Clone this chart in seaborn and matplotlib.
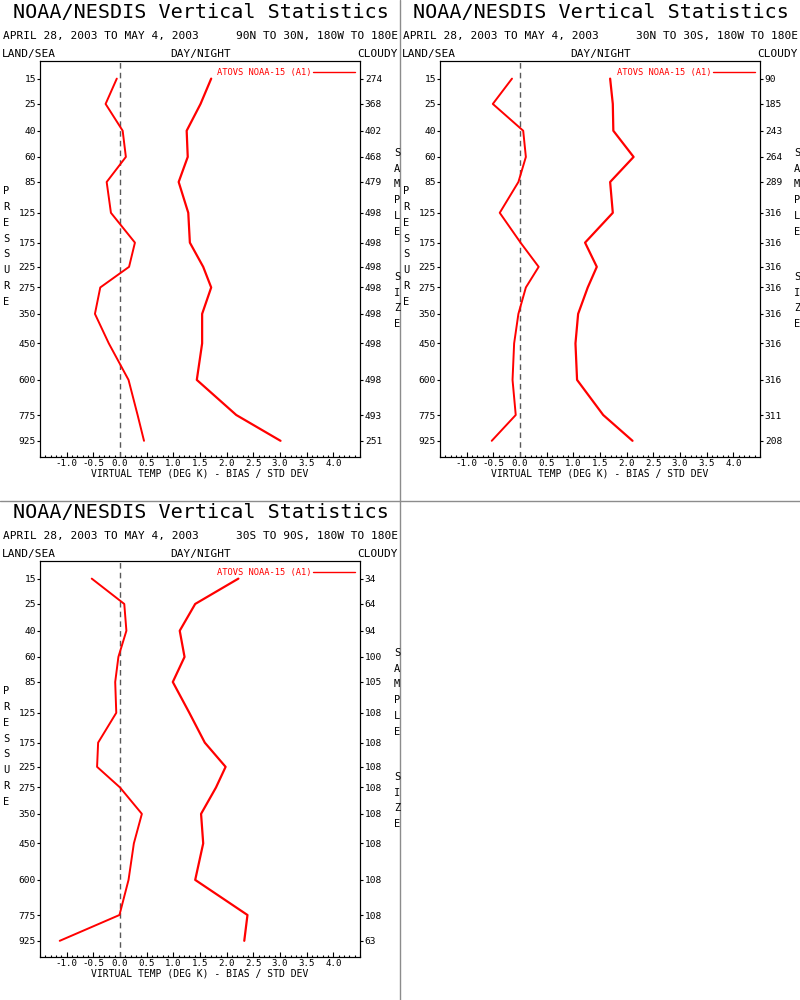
import numpy as np
import matplotlib
matplotlib.use('Agg')
import matplotlib.pyplot as plt
import seaborn as sns
from matplotlib.lines import Line2D
from matplotlib.ticker import MultipleLocator, NullLocator

# pressure levels (hPa) and the three latitude bands
levels = [15, 25, 40, 60, 85, 125, 175, 225, 275, 350, 450, 600, 775, 925]
regions = ['90N TO 30N, 180W TO 180E', '30N TO 30S, 180W TO 180E', '30S TO 90S, 180W TO 180E']
date_range = 'APRIL 28, 2003 TO MAY 4, 2003'
legend_label = 'ATOVS NOAA-15 (A1)'

# virtual temperature bias (K)
bias_nh = [-0.06, -0.27, 0.05, 0.11, -0.25, -0.17, 0.28, 0.17, -0.37, -0.47, -0.21, 0.16, 0.33, 0.45]
bias_tr = [-0.15, -0.51, 0.06, 0.11, -0.03, -0.38, 0.01, 0.35, 0.11, -0.03, -0.11, -0.14, -0.08, -0.53]
bias_sh = [-0.53, 0.08, 0.12, -0.03, -0.09, -0.07, -0.41, -0.43, 0.00, 0.41, 0.26, 0.16, -0.01, -1.13]

# virtual temperature std dev (K)
std_nh = [1.71, 1.51, 1.25, 1.27, 1.10, 1.28, 1.31, 1.56, 1.71, 1.54, 1.54, 1.44, 2.18, 3.01]
std_tr = [1.69, 1.74, 1.75, 2.13, 1.69, 1.74, 1.22, 1.44, 1.27, 1.09, 1.04, 1.07, 1.56, 2.11]
std_sh = [2.22, 1.41, 1.12, 1.21, 0.99, 1.30, 1.59, 1.98, 1.80, 1.52, 1.56, 1.41, 2.39, 2.33]

# sample sizes per level
n_nh = [274, 368, 402, 468, 479, 498, 498, 498, 498, 498, 498, 498, 493, 251]
n_tr = [90, 185, 243, 264, 289, 316, 316, 316, 316, 316, 316, 316, 311, 208]
n_sh = [34, 64, 94, 100, 105, 108, 108, 108, 108, 108, 108, 108, 108, 63]

xticks = [-1.0, -0.5, 0.0, 0.5, 1.0, 1.5, 2.0, 2.5, 3.0, 3.5, 4.0]

sns.set_style('ticks')
plt.rcParams['font.family'] = ['DejaVu Sans Mono']
plt.rcParams['axes.unicode_minus'] = False
plt.rcParams['axes.linewidth'] = 0.8
for key in ['text.color', 'axes.labelcolor', 'axes.edgecolor', 'xtick.color', 'ytick.color']:
    plt.rcParams[key] = 'black'

W, H = 800, 1000
fig = plt.figure(figsize=(8, 10), dpi=100)

KAPPA = 0.286
def fwd(p):
    return np.power(np.clip(p, 1e-6, None), KAPPA)
def inv(v):
    return np.power(np.clip(v, 1e-6, None), 1 / KAPPA)

def fx(x):
    return x / W
def fy(y):
    return 1 - y / H

def panel(ox, oy, region, bias, std, counts):
    ax = fig.add_axes([fx(ox + 40), fy(oy + 456.7), 320 / W, 395.7 / H])
    ax.set_yscale('function', functions=(fwd, inv))
    ax.axvline(0, color='0.35', lw=1, ls=(0, (4, 3)))
    sns.lineplot(x=bias, y=levels, sort=False, orient='y', estimator=None,
                 color='red', lw=1.4, ax=ax, label=legend_label)
    sns.lineplot(x=std, y=levels, sort=False, orient='y', estimator=None,
                 color='red', lw=1.6, ax=ax, legend=False)
    ax.set_ylim(1027, 10)
    ax.set_xlim(-1.5, 4.5)
    ax.set_xticks(xticks, [f'{v:.1f}' for v in xticks])
    ax.xaxis.set_minor_locator(MultipleLocator(0.1))
    ax.set_yticks(levels, [str(p) for p in levels])
    ax.yaxis.set_minor_locator(NullLocator())
    ax.tick_params(axis='x', which='major', direction='in', length=3.5, width=0.8, pad=2, labelsize=6.6)
    ax.tick_params(axis='x', which='minor', direction='in', length=1.8, width=0.8)
    ax.tick_params(axis='y', direction='out', length=2.5, width=0.8, pad=0.5, labelsize=6.8)
    ax.set_xlabel('VIRTUAL TEMP (DEG K) - BIAS / STD DEV', fontsize=7, labelpad=0)
    ax.set_ylabel('')

    ax2 = ax.twinx()
    ax2.set_yscale('function', functions=(fwd, inv))
    ax2.set_ylim(1027, 10)
    ax2.set_yticks(levels, [str(c) for c in counts])
    ax2.yaxis.set_minor_locator(NullLocator())
    ax2.tick_params(axis='y', direction='out', length=2.5, width=0.8, pad=1, labelsize=6.8)

    ax.legend(loc='upper right', bbox_to_anchor=(0.995, 0.99), markerfirst=False,
              frameon=False, handlelength=4.8, handletextpad=0.2, borderaxespad=0,
              fontsize=6.3, labelcolor='red')
    for h in ax.get_legend().legend_handles:
        h.set_linewidth(1.0)

    fig.text(fx(ox + 201), fy(oy + 12), 'NOAA/NESDIS Vertical Statistics',
             fontsize=14.5, ha='center', va='center')
    fig.text(fx(ox + 3), fy(oy + 36), date_range, fontsize=8, ha='left', va='center')
    fig.text(fx(ox + 398), fy(oy + 36), region, fontsize=8, ha='right', va='center')
    fig.text(fx(ox + 2), fy(oy + 54), 'LAND/SEA', fontsize=8, ha='left', va='center')
    fig.text(fx(ox + 201), fy(oy + 54), 'DAY/NIGHT', fontsize=8, ha='center', va='center')
    fig.text(fx(ox + 398), fy(oy + 54), 'CLOUDY', fontsize=8, ha='right', va='center')
    fig.text(fx(ox + 6), fy(oy + 246.5), '\n'.join('PRESSURE'), fontsize=7.5,
             ha='center', va='center', linespacing=1.74)
    fig.text(fx(ox + 397), fy(oy + 192.4), '\n'.join('SAMPLE'), fontsize=7.5,
             ha='center', va='center', linespacing=1.74)
    fig.text(fx(ox + 397), fy(oy + 300.5), '\n'.join('SIZE'), fontsize=7.5,
             ha='center', va='center', linespacing=1.74)
    return ax

panel(0, 0, regions[0], bias_nh, std_nh, n_nh)
panel(400, 0, regions[1], bias_tr, std_tr, n_tr)
panel(0, 500, regions[2], bias_sh, std_sh, n_sh)

# grey frame lines between the panels
fig.add_artist(Line2D([0.5, 0.5], [0, 1], transform=fig.transFigure, color='0.55', lw=1))
fig.add_artist(Line2D([0, 1], [0.499, 0.499], transform=fig.transFigure, color='0.55', lw=1))

fig.savefig('out.png', dpi=100, facecolor='white')
